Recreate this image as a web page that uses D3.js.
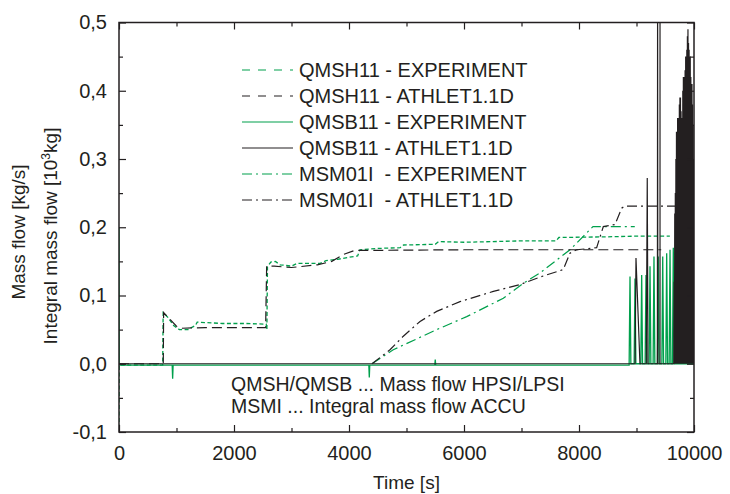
<!DOCTYPE html>
<html>
<head>
<meta charset="utf-8">
<script src="https://cdn.jsdelivr.net/npm/d3@7"></script>
<style>
  html, body { margin: 0; padding: 0; background: #fff; }
  svg { display: block; font-family: "Liberation Sans", Arial, Helvetica, sans-serif; }
</style>
</head>
<body>
<svg id="chart" width="730" height="494"></svg>
<script>
// ---- data: [time s, value] ----
const qmsh11Exp = [
  [0, -0.095], [4, -0.002], [760, -0.002], [768, 0.075], [850, 0.068], [950, 0.056], [1050, 0.05],
  [1200, 0.05], [1260, 0.053], [1330, 0.056], [1360, 0.061], [1800, 0.059], [2200, 0.059],
  [2560, 0.058], [2572, 0.05], [2582, 0.142], [2640, 0.149], [2720, 0.15], [2800, 0.145],
  [3000, 0.143], [3100, 0.147], [3500, 0.147], [3600, 0.151], [3800, 0.153], [4000, 0.156],
  [4150, 0.158], [4190, 0.167], [4500, 0.169], [4890, 0.17], [4950, 0.174], [5500, 0.175],
  [5560, 0.179], [6000, 0.178], [6500, 0.179], [7000, 0.18], [7600, 0.18], [7650, 0.185],
  [8500, 0.186], [9000, 0.187], [9580, 0.187]
];
const qmsh11Athlet = [
  [0, 0], [770, 0], [776, 0.075], [900, 0.064], [1000, 0.055], [1100, 0.052], [1500, 0.053],
  [2550, 0.053], [2568, 0.143], [2700, 0.143], [3000, 0.141], [3450, 0.145], [3700, 0.15],
  [3900, 0.16], [4100, 0.166], [6000, 0.167], [8000, 0.167], [9430, 0.167]
];
const qmsb11Exp = [
  [0, 0.2], [4, -0.002], [925, -0.002], [933, -0.022], [941, -0.002], [4345, -0.002],
  [4353, -0.02], [4361, -0.002], [5492, -0.002], [5500, 0.006], [5508, -0.002],
  [8872, -0.002], [8887, 0.128], [8902, 0], [8959, 0], [8974, 0.125], [8989, 0],
  [9075, 0], [9090, 0.13], [9105, 0], [9150, 0], [9165, 0.13], [9180, 0],
  [9220, 0], [9235, 0.143], [9250, 0], [9289, 0], [9304, 0.157], [9319, 0],
  [9364, 0], [9379, 0.157], [9394, 0], [9441, 0], [9456, 0.157], [9471, 0],
  [9510, 0], [9525, 0.162], [9540, 0], [9568, 0], [9583, 0.167], [9598, 0],
  [9625, 0], [9640, 0.17], [9655, 0], [10000, 0]
];
const qmsb11Athlet = [
  [0, 0], [8975, 0], [8991, 0.155], [9060, 0], [9170, 0], [9187, 0.272], [9200, 0],
  [9363, 0], [9367, 0.6], [9371, 0], [9409, 0], [9409, 0.6], [9409, 0], [9648, 0],
  [9655, 0.12], [9660, 0], [9665, 0.22], [9670, 0], [9675, 0.25], [9680, 0], [9685, 0.30], [9690, 0],
  [9695, 0.34], [9700, 0], [9705, 0.33], [9710, 0], [9715, 0.36], [9720, 0], [9725, 0.36], [9730, 0],
  [9735, 0.34], [9740, 0], [9745, 0.38], [9750, 0], [9755, 0.39], [9760, 0], [9765, 0.39], [9770, 0],
  [9775, 0.37], [9780, 0], [9785, 0.35], [9790, 0], [9795, 0.36], [9800, 0], [9805, 0.40], [9810, 0],
  [9815, 0.42], [9820, 0], [9825, 0.41], [9830, 0], [9835, 0.42], [9840, 0], [9845, 0.43], [9850, 0],
  [9855, 0.45], [9860, 0], [9865, 0.44], [9870, 0], [9875, 0.46], [9880, 0], [9885, 0.48], [9890, 0],
  [9895, 0.49], [9900, 0], [9905, 0.47], [9910, 0], [9915, 0.46], [9920, 0], [9925, 0.44], [9930, 0],
  [9935, 0.45], [9940, 0], [9945, 0.42], [9950, 0], [9955, 0.40], [9960, 0], [9965, 0.41], [9970, 0],
  [9975, 0.38], [9980, 0], [9985, 0.35], [9990, 0], [9995, 0.30], [10000, 0]
];
const msm01iExp = [
  [4400, 0], [4770, 0.0205], [5525, 0.05], [6047, 0.069], [6684, 0.096], [7032, 0.118],
  [7322, 0.133], [7843, 0.167], [8243, 0.201], [8970, 0.201]
];
const msm01iAthlet = [
  [4400, 0], [4713, 0.0205], [4940, 0.04], [5235, 0.062], [5525, 0.0767], [5930, 0.091],
  [6510, 0.106], [6974, 0.116], [7322, 0.127], [7727, 0.138], [7843, 0.162], [7960, 0.167],
  [8307, 0.17], [8423, 0.201], [8626, 0.204], [8742, 0.228], [8800, 0.231], [9670, 0.231]
];

const legendLabels = [
  "QMSH11 - EXPERIMENT", "QMSH11 - ATHLET1.1D", "QMSB11 - EXPERIMENT",
  "QMSB11 - ATHLET1.1D", "MSM01I  - EXPERIMENT", "MSM01I  - ATHLET1.1D"
];
const xTicksMajor = [0, 2000, 4000, 6000, 8000, 10000];
const xTicksMinor = [1000, 3000, 5000, 7000, 9000];
const yTicksMajor = [-0.1, 0.0, 0.1, 0.2, 0.3, 0.4, 0.5];
const yTicksMinor = [-0.05, 0.05, 0.15, 0.25, 0.35, 0.45];
const noteLines = ["QMSH/QMSB ... Mass flow HPSI/LPSI", "MSMI ... Integral mass flow ACCU"];

// ---- drawing ----
const GREEN = "#00a04c";
const DARK = "#231f20";
const svg = d3.select("#chart");
const x = d3.scaleLinear().domain([0, 10000]).range([119, 694]);
const y = d3.scaleLinear().domain([-0.1, 0.5]).range([432, 22.5]);

const locale = d3.formatLocale({ decimal: ",", thousands: ".", grouping: [3], currency: ["", ""], minus: "-" });
const fmtY = locale.format(".1f");

svg.append("clipPath").attr("id", "plotClip")
  .append("rect").attr("x", x(0)).attr("y", y(0.5)).attr("width", x(10000) - x(0)).attr("height", y(-0.1) - y(0.5));

const series = [
  { data: qmsh11Exp, color: GREEN, width: 1.3, dash: "4,2.5", legendDash: "8,8" },
  { data: qmsh11Athlet, color: DARK, width: 1.2, dash: "10,5", legendDash: "8,8" },
  { data: qmsb11Exp, color: GREEN, width: 1.3, dash: null, legendDash: null },
  { data: qmsb11Athlet, color: DARK, width: 1.2, dash: null, legendDash: null },
  { data: msm01iExp, color: GREEN, width: 1.2, dash: "10,4,2,4", legendDash: "10,4,2,4" },
  { data: msm01iAthlet, color: DARK, width: 1.2, dash: "10,4,2,4", legendDash: "10,4,2,4" }
];

const line = d3.line().x(d => x(d[0])).y(d => y(d[1]));
const plot = svg.append("g").attr("clip-path", "url(#plotClip)");
// experiment curves first, code results on top
[0, 2, 4, 1, 5, 3].forEach(i => {
  const s = series[i];
  plot.append("path").datum(s.data)
    .attr("d", line)
    .attr("fill", "none")
    .attr("stroke", s.color)
    .attr("stroke-width", s.width)
    .attr("stroke-dasharray", s.dash)
    .attr("stroke-linejoin", "miter");
});

// axes with inward ticks on all four sides
const tickFont = "20px";
function styleAxis(g) {
  g.select(".domain").remove();
  g.selectAll(".tick line").attr("stroke", DARK).attr("stroke-width", 1.2);
  g.selectAll(".tick text").attr("fill", DARK).style("font-size", tickFont).attr("font-family", null);
}
svg.append("g").attr("transform", `translate(0,${y(-0.1)})`)
  .call(d3.axisBottom(x).tickValues(xTicksMajor).tickSizeInner(-7).tickSizeOuter(0).tickPadding(14).tickFormat(d3.format("d")))
  .call(styleAxis);
svg.append("g").attr("transform", `translate(0,${y(-0.1)})`)
  .call(d3.axisBottom(x).tickValues(xTicksMinor).tickSizeInner(-4).tickSizeOuter(0).tickFormat(""))
  .call(styleAxis);
svg.append("g").attr("transform", `translate(0,${y(0.5)})`)
  .call(d3.axisTop(x).tickValues(xTicksMajor).tickSizeInner(-7).tickSizeOuter(0).tickFormat(""))
  .call(styleAxis);
svg.append("g").attr("transform", `translate(0,${y(0.5)})`)
  .call(d3.axisTop(x).tickValues(xTicksMinor).tickSizeInner(-4).tickSizeOuter(0).tickFormat(""))
  .call(styleAxis);
svg.append("g").attr("transform", `translate(${x(0)},0)`)
  .call(d3.axisLeft(y).tickValues(yTicksMajor).tickSizeInner(-7).tickSizeOuter(0).tickPadding(12).tickFormat(fmtY))
  .call(styleAxis);
svg.append("g").attr("transform", `translate(${x(0)},0)`)
  .call(d3.axisLeft(y).tickValues(yTicksMinor).tickSizeInner(-4).tickSizeOuter(0).tickFormat(""))
  .call(styleAxis);
svg.append("g").attr("transform", `translate(${x(10000)},0)`)
  .call(d3.axisRight(y).tickValues(yTicksMajor).tickSizeInner(-7).tickSizeOuter(0).tickFormat(""))
  .call(styleAxis);
svg.append("g").attr("transform", `translate(${x(10000)},0)`)
  .call(d3.axisRight(y).tickValues(yTicksMinor).tickSizeInner(-4).tickSizeOuter(0).tickFormat(""))
  .call(styleAxis);

// frame
svg.append("rect")
  .attr("x", x(0)).attr("y", y(0.5))
  .attr("width", x(10000) - x(0)).attr("height", y(-0.1) - y(0.5))
  .attr("fill", "none").attr("stroke", DARK).attr("stroke-width", 1.5);

// axis titles
svg.append("text").attr("x", (x(0) + x(10000)) / 2).attr("y", 489)
  .attr("text-anchor", "middle").attr("fill", DARK).style("font-size", "19px").text("Time [s]");
svg.append("text").attr("transform", "translate(25,232) rotate(-90)")
  .attr("text-anchor", "middle").attr("fill", DARK).style("font-size", "19px").text("Mass flow [kg/s]");
const t2 = svg.append("text").attr("transform", "translate(57,236) rotate(-90)")
  .attr("text-anchor", "middle").attr("fill", DARK).style("font-size", "19px");
t2.append("tspan").text("Integral mass flow [10");
t2.append("tspan").attr("dy", -7).style("font-size", "12px").text("3");
t2.append("tspan").attr("dy", 7).text("kg]");

// legend
const legend = svg.append("g");
legendLabels.forEach((label, i) => {
  const s = series[i];
  const by = 77 + i * 26;
  legend.append("line")
    .attr("x1", 242).attr("x2", 293).attr("y1", by - 7).attr("y2", by - 7)
    .attr("stroke", s.color).attr("stroke-width", 1.2)
    .attr("stroke-dasharray", s.legendDash);
  legend.append("text").attr("x", 299).attr("y", by)
    .attr("fill", DARK).style("font-size", "20px").style("white-space", "pre")
    .attr("xml:space", "preserve").text(label);
});

// explanatory note
noteLines.forEach((t, i) => {
  svg.append("text").attr("x", 231).attr("y", 391 + i * 22)
    .attr("fill", DARK).style("font-size", "19.5px").text(t);
});
</script>
</body>
</html>
